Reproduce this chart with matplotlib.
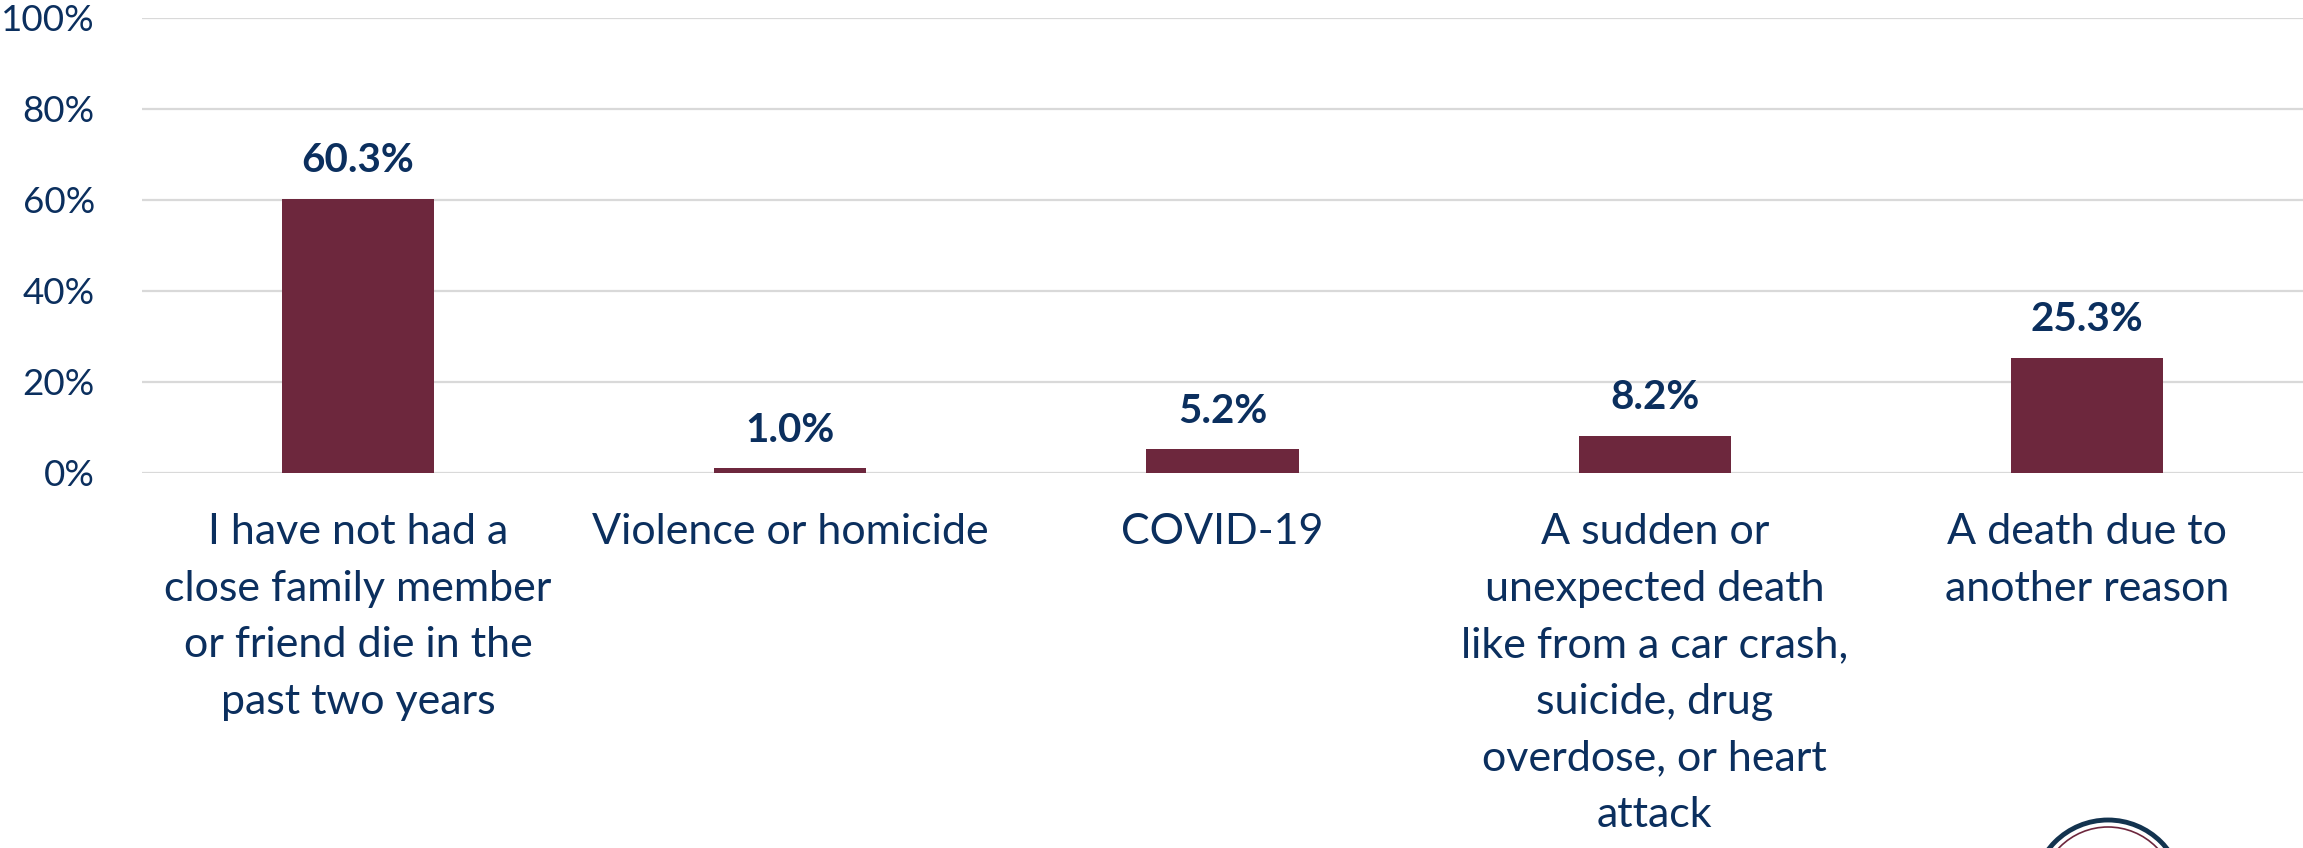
import matplotlib
matplotlib.use("Agg")
import matplotlib.pyplot as plt
from matplotlib.patches import Ellipse

categories = [
    "I have not had a\nclose family member\nor friend die in the\npast two years",
    "Violence or homicide",
    "COVID-19",
    "A sudden or\nunexpected death\nlike from a car crash,\nsuicide, drug\noverdose, or heart\nattack",
    "A death due to\nanother reason",
]
values = [60.3, 1.0, 5.2, 8.2, 25.3]
y_ticks = [0, 20, 40, 60, 80, 100]

NAVY = "#0B2F5E"
MAROON = "#6D273D"
GRID = "#D9D9D9"

plt.rcParams["font.family"] = ["Lato", "DejaVu Sans"]

W, H = 2303, 848
fig = plt.figure(figsize=(W / 100, H / 100), dpi=100)
ax = fig.add_axes([142 / W, 1 - 473 / H, 1 - 142 / W, (473 - 18) / H])

x = range(len(categories))
bars = ax.bar(x, values, width=0.352, color=MAROON, zorder=3)

ax.set_xlim(-0.5, len(categories) - 0.5)
ax.set_ylim(0, 100)
ax.set_yticks(y_ticks)
ax.set_yticklabels([f"{t}%" for t in y_ticks], fontsize=26.5, color=NAVY)
ax.tick_params(axis="y", length=0, pad=34)
ax.tick_params(axis="x", length=0)
ax.set_xticks([])
ax.grid(axis="y", color=GRID, linewidth=1.6, zorder=0)
for s in ax.spines.values():
    s.set_visible(False)

for xi, v in zip(x, values):
    ax.annotate(f"{v:.1f}%", (xi, v), xytext=(0, 14), textcoords="offset points",
                ha="center", va="bottom", fontsize=29, fontweight="bold", color=NAVY)

for xi, lab in zip(x, categories):
    ax.annotate(lab, (xi, 0), xytext=(0, -29), textcoords="offset points",
                ha="center", va="top", fontsize=31, color=NAVY, linespacing=1.6,
                annotation_clip=False)

# partial seal at the bottom-right corner
cx, cy = 2108 / W, (H - 895) / H
fig.add_artist(Ellipse((cx, cy), 2 * 75 / W, 2 * 75 / H, fill=False,
                       edgecolor="#13334F", linewidth=3.5, transform=fig.transFigure))
fig.add_artist(Ellipse((cx, cy), 2 * 68 / W, 2 * 68 / H, fill=False,
                       edgecolor=MAROON, linewidth=1.2, transform=fig.transFigure))

fig.savefig("out.png", dpi=100, facecolor="white")
